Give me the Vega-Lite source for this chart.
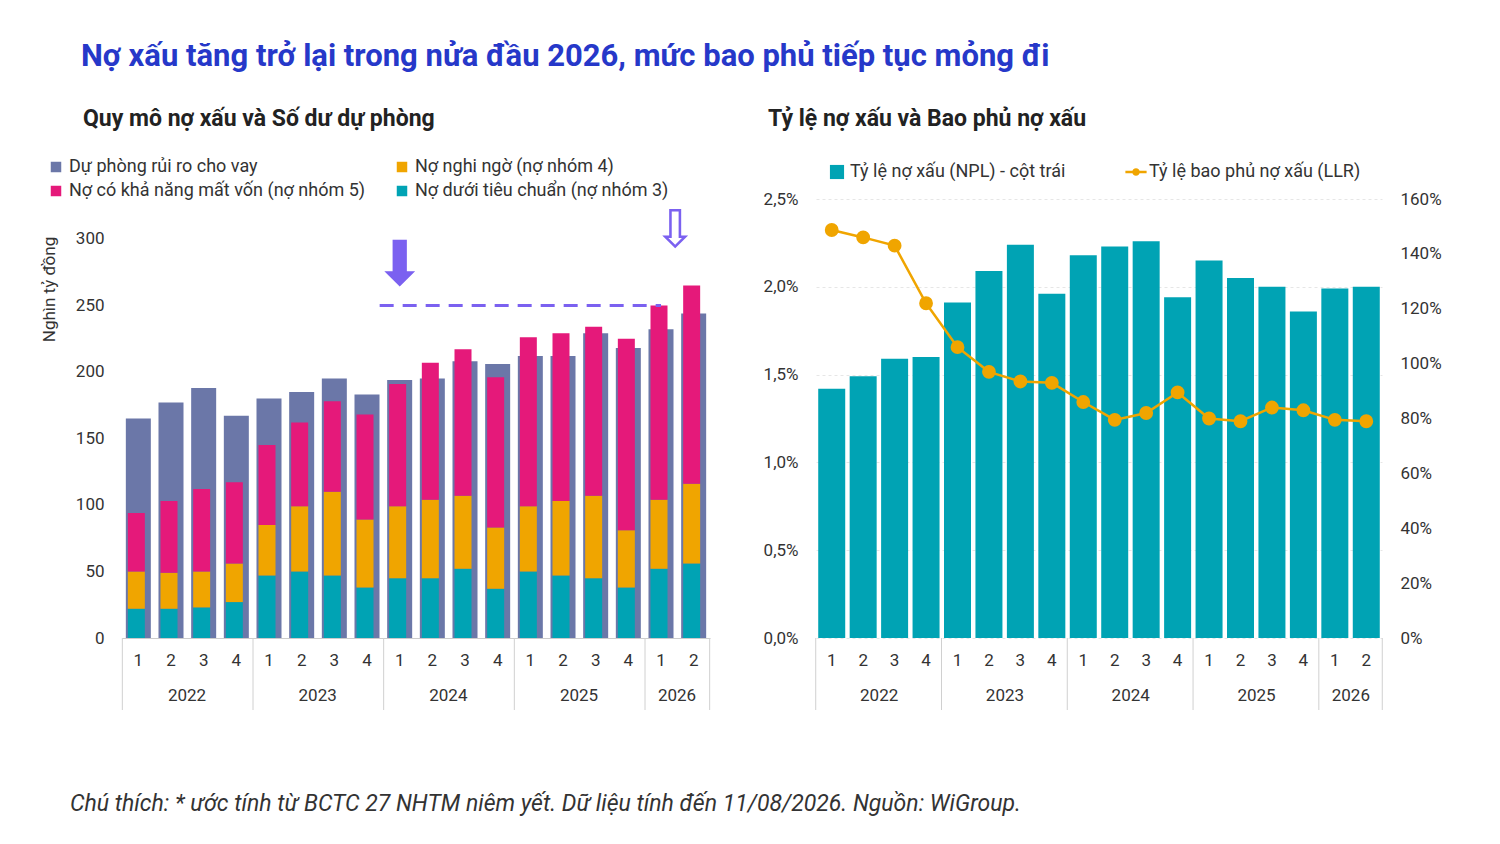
{
  "$schema": "https://vega.github.io/schema/vega-lite/v6.json",
  "background": "white",
  "padding": {"left": 39, "top": 41, "right": 20, "bottom": 10},
  "config": {
    "font": "Roboto",
    "view": {"stroke": null},
    "axis": {"labelFont": "Roboto", "labelFontSize": 17, "labelColor": "#333", "titleFont": "Roboto", "gridColor": "#e6e6e6"},
    "legend": {"labelFont": "Roboto", "labelFontSize": 18, "labelColor": "#333", "labelLimit": 400},
    "title": {"font": "Roboto"}
  },
  "title": {"text": "Nợ xấu tăng trở lại trong nửa đầu 2026, mức bao phủ tiếp tục mỏng đi", "anchor": "start", "fontSize": 31, "fontWeight": "bold", "color": "#2638c9", "offset": 35, "dx": 41},
  "datasets": {
    "npl": [
      {"q": "2022-1", "s": "Dự phòng rủi ro cho vay", "o": 0, "v": 165},
      {"q": "2022-2", "s": "Dự phòng rủi ro cho vay", "o": 0, "v": 177},
      {"q": "2022-3", "s": "Dự phòng rủi ro cho vay", "o": 0, "v": 188},
      {"q": "2022-4", "s": "Dự phòng rủi ro cho vay", "o": 0, "v": 167},
      {"q": "2023-1", "s": "Dự phòng rủi ro cho vay", "o": 0, "v": 180},
      {"q": "2023-2", "s": "Dự phòng rủi ro cho vay", "o": 0, "v": 185},
      {"q": "2023-3", "s": "Dự phòng rủi ro cho vay", "o": 0, "v": 195},
      {"q": "2023-4", "s": "Dự phòng rủi ro cho vay", "o": 0, "v": 183},
      {"q": "2024-1", "s": "Dự phòng rủi ro cho vay", "o": 0, "v": 194},
      {"q": "2024-2", "s": "Dự phòng rủi ro cho vay", "o": 0, "v": 195},
      {"q": "2024-3", "s": "Dự phòng rủi ro cho vay", "o": 0, "v": 208},
      {"q": "2024-4", "s": "Dự phòng rủi ro cho vay", "o": 0, "v": 206},
      {"q": "2025-1", "s": "Dự phòng rủi ro cho vay", "o": 0, "v": 212},
      {"q": "2025-2", "s": "Dự phòng rủi ro cho vay", "o": 0, "v": 212},
      {"q": "2025-3", "s": "Dự phòng rủi ro cho vay", "o": 0, "v": 229},
      {"q": "2025-4", "s": "Dự phòng rủi ro cho vay", "o": 0, "v": 218},
      {"q": "2026-1", "s": "Dự phòng rủi ro cho vay", "o": 0, "v": 232},
      {"q": "2026-2", "s": "Dự phòng rủi ro cho vay", "o": 0, "v": 244},

      {"q": "2022-1", "s": "Nợ dưới tiêu chuẩn (nợ nhóm 3)", "o": 1, "v": 22},
      {"q": "2022-2", "s": "Nợ dưới tiêu chuẩn (nợ nhóm 3)", "o": 1, "v": 22},
      {"q": "2022-3", "s": "Nợ dưới tiêu chuẩn (nợ nhóm 3)", "o": 1, "v": 23},
      {"q": "2022-4", "s": "Nợ dưới tiêu chuẩn (nợ nhóm 3)", "o": 1, "v": 27},
      {"q": "2023-1", "s": "Nợ dưới tiêu chuẩn (nợ nhóm 3)", "o": 1, "v": 47},
      {"q": "2023-2", "s": "Nợ dưới tiêu chuẩn (nợ nhóm 3)", "o": 1, "v": 50},
      {"q": "2023-3", "s": "Nợ dưới tiêu chuẩn (nợ nhóm 3)", "o": 1, "v": 47},
      {"q": "2023-4", "s": "Nợ dưới tiêu chuẩn (nợ nhóm 3)", "o": 1, "v": 38},
      {"q": "2024-1", "s": "Nợ dưới tiêu chuẩn (nợ nhóm 3)", "o": 1, "v": 45},
      {"q": "2024-2", "s": "Nợ dưới tiêu chuẩn (nợ nhóm 3)", "o": 1, "v": 45},
      {"q": "2024-3", "s": "Nợ dưới tiêu chuẩn (nợ nhóm 3)", "o": 1, "v": 52},
      {"q": "2024-4", "s": "Nợ dưới tiêu chuẩn (nợ nhóm 3)", "o": 1, "v": 37},
      {"q": "2025-1", "s": "Nợ dưới tiêu chuẩn (nợ nhóm 3)", "o": 1, "v": 50},
      {"q": "2025-2", "s": "Nợ dưới tiêu chuẩn (nợ nhóm 3)", "o": 1, "v": 47},
      {"q": "2025-3", "s": "Nợ dưới tiêu chuẩn (nợ nhóm 3)", "o": 1, "v": 45},
      {"q": "2025-4", "s": "Nợ dưới tiêu chuẩn (nợ nhóm 3)", "o": 1, "v": 38},
      {"q": "2026-1", "s": "Nợ dưới tiêu chuẩn (nợ nhóm 3)", "o": 1, "v": 52},
      {"q": "2026-2", "s": "Nợ dưới tiêu chuẩn (nợ nhóm 3)", "o": 1, "v": 56},

      {"q": "2022-1", "s": "Nợ nghi ngờ (nợ nhóm 4)", "o": 2, "v": 28},
      {"q": "2022-2", "s": "Nợ nghi ngờ (nợ nhóm 4)", "o": 2, "v": 27},
      {"q": "2022-3", "s": "Nợ nghi ngờ (nợ nhóm 4)", "o": 2, "v": 27},
      {"q": "2022-4", "s": "Nợ nghi ngờ (nợ nhóm 4)", "o": 2, "v": 29},
      {"q": "2023-1", "s": "Nợ nghi ngờ (nợ nhóm 4)", "o": 2, "v": 38},
      {"q": "2023-2", "s": "Nợ nghi ngờ (nợ nhóm 4)", "o": 2, "v": 49},
      {"q": "2023-3", "s": "Nợ nghi ngờ (nợ nhóm 4)", "o": 2, "v": 63},
      {"q": "2023-4", "s": "Nợ nghi ngờ (nợ nhóm 4)", "o": 2, "v": 51},
      {"q": "2024-1", "s": "Nợ nghi ngờ (nợ nhóm 4)", "o": 2, "v": 54},
      {"q": "2024-2", "s": "Nợ nghi ngờ (nợ nhóm 4)", "o": 2, "v": 59},
      {"q": "2024-3", "s": "Nợ nghi ngờ (nợ nhóm 4)", "o": 2, "v": 55},
      {"q": "2024-4", "s": "Nợ nghi ngờ (nợ nhóm 4)", "o": 2, "v": 46},
      {"q": "2025-1", "s": "Nợ nghi ngờ (nợ nhóm 4)", "o": 2, "v": 49},
      {"q": "2025-2", "s": "Nợ nghi ngờ (nợ nhóm 4)", "o": 2, "v": 56},
      {"q": "2025-3", "s": "Nợ nghi ngờ (nợ nhóm 4)", "o": 2, "v": 62},
      {"q": "2025-4", "s": "Nợ nghi ngờ (nợ nhóm 4)", "o": 2, "v": 43},
      {"q": "2026-1", "s": "Nợ nghi ngờ (nợ nhóm 4)", "o": 2, "v": 52},
      {"q": "2026-2", "s": "Nợ nghi ngờ (nợ nhóm 4)", "o": 2, "v": 60},

      {"q": "2022-1", "s": "Nợ có khả năng mất vốn (nợ nhóm 5)", "o": 3, "v": 44},
      {"q": "2022-2", "s": "Nợ có khả năng mất vốn (nợ nhóm 5)", "o": 3, "v": 54},
      {"q": "2022-3", "s": "Nợ có khả năng mất vốn (nợ nhóm 5)", "o": 3, "v": 62},
      {"q": "2022-4", "s": "Nợ có khả năng mất vốn (nợ nhóm 5)", "o": 3, "v": 61},
      {"q": "2023-1", "s": "Nợ có khả năng mất vốn (nợ nhóm 5)", "o": 3, "v": 60},
      {"q": "2023-2", "s": "Nợ có khả năng mất vốn (nợ nhóm 5)", "o": 3, "v": 63},
      {"q": "2023-3", "s": "Nợ có khả năng mất vốn (nợ nhóm 5)", "o": 3, "v": 68},
      {"q": "2023-4", "s": "Nợ có khả năng mất vốn (nợ nhóm 5)", "o": 3, "v": 79},
      {"q": "2024-1", "s": "Nợ có khả năng mất vốn (nợ nhóm 5)", "o": 3, "v": 92},
      {"q": "2024-2", "s": "Nợ có khả năng mất vốn (nợ nhóm 5)", "o": 3, "v": 103},
      {"q": "2024-3", "s": "Nợ có khả năng mất vốn (nợ nhóm 5)", "o": 3, "v": 110},
      {"q": "2024-4", "s": "Nợ có khả năng mất vốn (nợ nhóm 5)", "o": 3, "v": 113},
      {"q": "2025-1", "s": "Nợ có khả năng mất vốn (nợ nhóm 5)", "o": 3, "v": 127},
      {"q": "2025-2", "s": "Nợ có khả năng mất vốn (nợ nhóm 5)", "o": 3, "v": 126},
      {"q": "2025-3", "s": "Nợ có khả năng mất vốn (nợ nhóm 5)", "o": 3, "v": 127},
      {"q": "2025-4", "s": "Nợ có khả năng mất vốn (nợ nhóm 5)", "o": 3, "v": 144},
      {"q": "2026-1", "s": "Nợ có khả năng mất vốn (nợ nhóm 5)", "o": 3, "v": 146},
      {"q": "2026-2", "s": "Nợ có khả năng mất vốn (nợ nhóm 5)", "o": 3, "v": 149}
    ],
    "ratio": [
      {"q": "2022-1", "npl": 1.42, "llr": 148.7},
      {"q": "2022-2", "npl": 1.49, "llr": 146},
      {"q": "2022-3", "npl": 1.59, "llr": 143},
      {"q": "2022-4", "npl": 1.60, "llr": 122},
      {"q": "2023-1", "npl": 1.91, "llr": 106},
      {"q": "2023-2", "npl": 2.09, "llr": 97},
      {"q": "2023-3", "npl": 2.24, "llr": 93.5},
      {"q": "2023-4", "npl": 1.96, "llr": 93},
      {"q": "2024-1", "npl": 2.18, "llr": 86},
      {"q": "2024-2", "npl": 2.23, "llr": 79.5},
      {"q": "2024-3", "npl": 2.26, "llr": 82},
      {"q": "2024-4", "npl": 1.94, "llr": 89.5},
      {"q": "2025-1", "npl": 2.15, "llr": 80},
      {"q": "2025-2", "npl": 2.05, "llr": 79},
      {"q": "2025-3", "npl": 2.00, "llr": 84},
      {"q": "2025-4", "npl": 1.86, "llr": 83},
      {"q": "2026-1", "npl": 1.99, "llr": 79.5},
      {"q": "2026-2", "npl": 2.00, "llr": 79}
    ],
    "years": [
      {"q": "2022-2", "first": "2022-1", "year": "2022"},
      {"q": "2023-2", "first": "2023-1", "year": "2023"},
      {"q": "2024-2", "first": "2024-1", "year": "2024"},
      {"q": "2025-2", "first": "2025-1", "year": "2025"},
      {"q": "2026-1", "first": "2026-1", "year": "2026"}
    ]
  },
  "vconcat": [
    {
      "hconcat": [
        {
          "width": 588,
          "height": 439,
          "title": {"text": "Quy mô nợ xấu và Số dư dự phòng", "anchor": "start", "fontSize": 23, "fontWeight": "bold", "color": "#222", "dx": 43, "offset": 68},
          "layer": [
            {
              "data": {"name": "npl"},
              "transform": [{"filter": "datum.o == 0"}],
              "mark": {"type": "bar", "size": 25},
              "encoding": {
                "x": {"field": "q", "type": "nominal", "sort": null, "scale": {"paddingInner": 0.2}, "title": null,
                  "axis": {"labelExpr": "split(datum.value, '-')[1]", "labelAngle": 0, "ticks": false, "domainColor": "#ccc", "labelPadding": 14, "labelFontSize": 17}},
                "y": {"field": "v", "type": "quantitative", "scale": {"domain": [0, 330], "nice": false}, "title": "Nghìn tỷ đồng",
                  "axis": {"values": [0, 50, 100, 150, 200, 250, 300], "grid": false, "domain": false, "ticks": false, "labelPadding": 18, "titleFontSize": 17, "titleFontWeight": "normal", "titleColor": "#333", "titleX": -64, "titleY": 90, "titleAngle": -90}},
                "color": {"field": "s", "type": "nominal",
                  "scale": {"domain": ["Dự phòng rủi ro cho vay", "Nợ có khả năng mất vốn (nợ nhóm 5)", "Nợ nghi ngờ (nợ nhóm 4)", "Nợ dưới tiêu chuẩn (nợ nhóm 3)"], "range": ["#6b77a8", "#e5197a", "#f0a500", "#00a3b4"]},
                  "legend": {"orient": "none", "legendX": -75, "legendY": -41, "columns": 2, "columnPadding": 27, "rowPadding": 6, "symbolType": "square", "symbolSize": 110, "title": null}}
              }
            },
            {
              "data": {"name": "npl"},
              "transform": [{"filter": "datum.o > 0"}],
              "mark": {"type": "bar", "size": 17, "xOffset": -2},
              "encoding": {
                "x": {"field": "q", "type": "nominal", "sort": null},
                "y": {"field": "v", "type": "quantitative", "stack": "zero"},
                "color": {"field": "s", "type": "nominal"},
                "order": {"field": "o", "type": "quantitative"}
              }
            },
            {
              "data": {"values": [{"a": "2024-1", "b": "2026-1", "v": 250}]},
              "mark": {"type": "rule", "color": "#7b61f0", "strokeWidth": 3, "strokeDash": [14, 9], "xOffset": -20, "x2Offset": 0},
              "encoding": {"x": {"field": "a", "type": "nominal", "sort": null}, "x2": {"field": "b"}, "y": {"field": "v", "type": "quantitative"}}
            },
            {
              "data": {"values": [{"q": "2024-1", "v": 280}]},
              "mark": {"type": "text", "text": "⬇", "fontSize": 62, "color": "#7b61f0", "font": "DejaVu Sans", "baseline": "middle"},
              "encoding": {"x": {"field": "q", "type": "nominal", "sort": null}, "y": {"field": "v", "type": "quantitative"}}
            },
            {
              "data": {"values": [{"q": "2026-1", "v": 306}]},
              "mark": {"type": "text", "text": "⇩", "fontSize": 52, "color": "#7b61f0", "font": "DejaVu Sans", "baseline": "middle", "dx": 14},
              "encoding": {"x": {"field": "q", "type": "nominal", "sort": null}, "y": {"field": "v", "type": "quantitative"}}
            },
            {
              "data": {"name": "years"},
              "mark": {"type": "text", "fontSize": 17, "color": "#333", "dx": 16, "dy": 58},
              "encoding": {"x": {"field": "q", "type": "nominal", "sort": null}, "y": {"value": 439}, "text": {"field": "year"}}
            },
            {
              "data": {"name": "years"},
              "mark": {"type": "rule", "color": "#d0d0d0", "xOffset": -16, "y2Offset": 72},
              "encoding": {"x": {"field": "first", "type": "nominal", "sort": null}, "y": {"value": 439}, "y2": {"value": 439}}
            },
            {
              "data": {"values": [{"q": "2026-2"}]},
              "mark": {"type": "rule", "color": "#d0d0d0", "xOffset": 16, "y2Offset": 72},
              "encoding": {"x": {"field": "q", "type": "nominal", "sort": null}, "y": {"value": 439}, "y2": {"value": 439}}
            }
          ]
        },
        {
          "width": 566,
          "height": 439,
          "title": {"text": "Tỷ lệ nợ xấu và Bao phủ nợ xấu", "anchor": "start", "fontSize": 23, "fontWeight": "bold", "color": "#222", "dx": 5, "offset": 59},
          "data": {"name": "ratio"},
          "layer": [
            {
              "transform": [{"calculate": "'Tỷ lệ nợ xấu (NPL) - cột trái'", "as": "k"}],
              "mark": {"type": "bar", "color": "#00a3b4", "size": 27},
              "encoding": {
                "x": {"field": "q", "type": "nominal", "sort": null, "title": null,
                  "axis": {"labelExpr": "split(datum.value, '-')[1]", "labelAngle": 0, "ticks": false, "domain": false, "labelPadding": 14}},
                "y": {"field": "npl", "type": "quantitative", "scale": {"domain": [0, 2.5], "nice": false}, "title": null,
                  "axis": {"values": [0, 0.5, 1, 1.5, 2, 2.5], "labelExpr": "replace(format(datum.value, '.1f'), '.', ',') + '%'", "domain": false, "ticks": false, "labelPadding": 18, "grid": true, "gridDash": [3, 3]}},
                "fill": {"field": "k", "type": "nominal", "scale": {"range": ["#00a3b4"]},
                  "legend": {"orient": "none", "legendX": 706, "legendY": -36, "title": null, "symbolType": "square", "symbolSize": 200}}
              }
            },
            {
              "transform": [{"calculate": "'Tỷ lệ bao phủ nợ xấu (LLR)'", "as": "k2"}],
              "mark": {"type": "line", "color": "#f0a500", "strokeWidth": 2.5, "point": {"filled": true, "size": 140, "color": "#f0a500"}},
              "encoding": {
                "x": {"field": "q", "type": "nominal", "sort": null},
                "y": {"field": "llr", "type": "quantitative", "scale": {"domain": [0, 160], "nice": false}, "title": null,
                  "axis": {"orient": "right", "values": [0, 20, 40, 60, 80, 100, 120, 140, 160], "labelExpr": "datum.value + '%'", "grid": false, "domain": false, "ticks": false, "labelPadding": 18}},
                "stroke": {"field": "k2", "type": "nominal", "scale": {"range": ["#f0a500"]},
                  "legend": {"orient": "none", "legendX": 1005, "legendY": -36, "title": null, "symbolType": "M-1.5,0L1.5,0M0.35,0A0.35,0.35 0 1 1 -0.35,0A0.35,0.35 0 1 1 0.35,0", "symbolSize": 200, "symbolStrokeWidth": 2.5}}
              }
            },
            {
              "data": {"name": "years"},
              "mark": {"type": "text", "fontSize": 17, "color": "#333", "dx": 16, "dy": 58},
              "encoding": {"x": {"field": "q", "type": "nominal", "sort": null}, "y": {"value": 439}, "text": {"field": "year"}}
            },
            {
              "data": {"name": "years"},
              "mark": {"type": "rule", "color": "#d0d0d0", "xOffset": -16, "y2Offset": 72},
              "encoding": {"x": {"field": "first", "type": "nominal", "sort": null}, "y": {"value": 439}, "y2": {"value": 439}}
            },
            {
              "data": {"values": [{"q": "2026-2"}]},
              "mark": {"type": "rule", "color": "#d0d0d0", "xOffset": 16, "y2Offset": 72},
              "encoding": {"x": {"field": "q", "type": "nominal", "sort": null}, "y": {"value": 439}, "y2": {"value": 439}}
            }
          ],
          "resolve": {"scale": {"y": "independent"}}
        }
      ],
      "spacing": 52
    },
    {
      "width": 1200,
      "height": 20,
      "data": {"values": [{"t": "Chú thích: * ước tính từ BCTC 27 NHTM niêm yết. Dữ liệu tính đến 11/08/2026. Nguồn: WiGroup."}]},
      "mark": {"type": "text", "align": "left", "fontSize": 23, "fontStyle": "italic", "color": "#333"},
      "encoding": {"text": {"field": "t"}, "x": {"value": -52}}
    }
  ],
  "spacing": 82
}
